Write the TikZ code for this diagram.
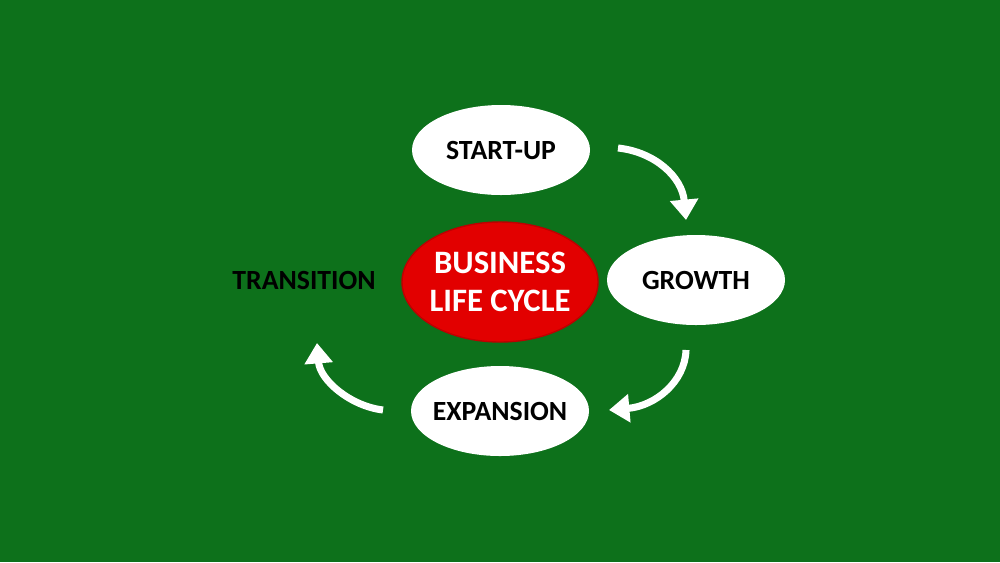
\documentclass[tikz,border=0pt]{standalone}
\usepackage{fontspec}
\setmainfont{Carlito}
\usetikzlibrary{shapes.geometric,arrows.meta}
\definecolor{bggreen}{RGB}{13,113,27}
\definecolor{cyclered}{RGB}{226,0,0}
\definecolor{cycleredborder}{RGB}{190,0,0}
\tikzset{
  stage/.style={ellipse, fill=white, minimum width=1.78cm, minimum height=0.90cm, inner ysep=0pt, inner xsep=-10pt,
    font=\fontsize{7.9pt}{9pt}\selectfont\bfseries, text=black},
  hub/.style={ellipse, fill=cyclered, draw=cycleredborder, line width=0.4pt, minimum width=1.96cm, minimum height=1.20cm,
    inner ysep=-4pt, inner xsep=-10pt, align=center, font=\fontsize{9.3pt}{10.6pt}\selectfont\bfseries, text=white},
  plain/.style={font=\fontsize{7.9pt}{9pt}\selectfont\bfseries, text=black},
  flow/.style={white, line width=2pt, -{Triangle[width=7.8pt,length=5.8pt]}}
}
\begin{document}
\begin{tikzpicture}
\fill[bggreen] (0,0) rectangle (10,5.62);
\useasboundingbox (0,0) rectangle (10,5.62);
\node[stage] (startup) at (5.01,4.12) {START-UP};
\node[hub] (hub) at (5.00,2.80) {BUSINESS\\LIFE CYCLE};
\node[stage] (growth) at (6.96,2.82) {GROWTH};
\node[stage] (expansion) at (5.00,1.51) {EXPANSION};
\node[plain] (transition) at (3.04,2.82) {TRANSITION};
\coordinate (a1s) at (6.18,4.14);
\coordinate (a1e) at (6.86,3.42);
\coordinate (a2s) at (6.86,2.12);
\coordinate (a2e) at (6.09,1.52);
\coordinate (a3s) at (3.83,1.52);
\coordinate (a3e) at (3.17,2.19);
\draw[flow] (a1s) .. controls (6.55,4.10) and (6.82,3.85) .. (a1e);
\draw[flow] (a2s) .. controls (6.85,1.80) and (6.55,1.56) .. (a2e);
\draw[flow] (a3s) .. controls (3.50,1.56) and (3.20,1.82) .. (a3e);
\end{tikzpicture}
\end{document}
